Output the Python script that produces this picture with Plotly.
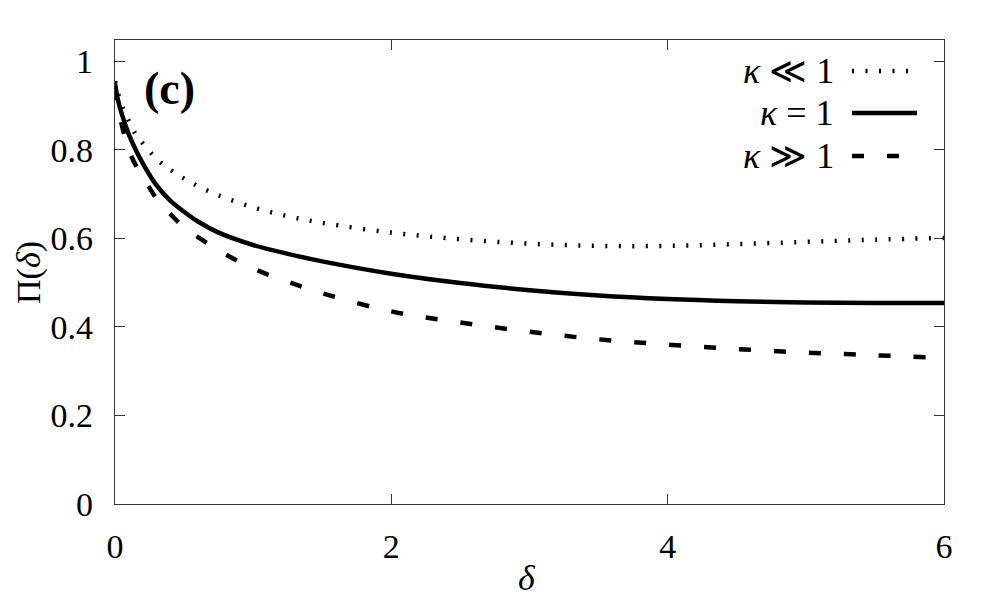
import plotly.graph_objects as go

# ---- data ----
delta = [0, 0.02, 0.05, 0.1, 0.15, 0.2, 0.3, 0.4, 0.5, 0.6, 0.75, 1, 1.25, 1.5, 2, 2.5,
         3, 3.5, 4, 4.5, 5, 5.5, 6]
pi_kappa_small = [0.955, 0.93, 0.90, 0.865, 0.835, 0.815, 0.78, 0.755, 0.735, 0.718, 0.697,
                  0.67, 0.65, 0.635, 0.613, 0.598, 0.588, 0.583, 0.583, 0.587, 0.592, 0.597,
                  0.601]
pi_kappa_one = [0.95, 0.915, 0.88, 0.835, 0.80, 0.77, 0.72, 0.685, 0.66, 0.638, 0.613,
                0.585, 0.565, 0.548, 0.52, 0.499, 0.483, 0.471, 0.463, 0.458, 0.455, 0.454,
                0.454]
pi_kappa_large = [0.94, 0.90, 0.855, 0.80, 0.765, 0.74, 0.69, 0.655, 0.625, 0.603, 0.573,
                  0.532, 0.502, 0.476, 0.435, 0.41, 0.389, 0.372, 0.36, 0.35, 0.342, 0.336,
                  0.330]

series_labels = ["<i>κ</i> ≪ 1", "<i>κ</i> = 1", "<i>κ</i> ≫ 1"]
x_ticks = [0, 2, 4, 6]
y_ticks = [0, 0.2, 0.4, 0.6, 0.8, 1]
y_ticklabels = ["0", "0.2", "0.4", "0.6", "0.8", "1"]

FONT = "Liberation Serif, DejaVu Serif, serif"
OFF = 8                      # default page body margin
W, H = 997 - OFF, 609 - OFF
PL, PR, PT, PB = 115, 944, 40, 504   # plot area in page pixels
L, T = PL - OFF, PT - OFF
R = (W + OFF) - PR
B = (H + OFF) - PB
PW, PH = PR - PL, PB - PT

def px2paper(px, py):
    return (px - PL) / PW, (PB - py) / PH

styles = [
    dict(color="black", width=4.5, dash="2px,11.5px"),
    dict(color="black", width=4.5, dash="solid"),
    dict(color="black", width=4.5, dash="12px,23px"),
]
series = [pi_kappa_small, pi_kappa_one, pi_kappa_large]

fig = go.Figure()
for ys, st, name in zip(series, styles, series_labels):
    fig.add_trace(go.Scatter(x=delta, y=ys, mode="lines", name=name,
                             line=dict(shape="spline", smoothing=1.0, **st),
                             showlegend=False))

axis_common = dict(showline=True, linecolor="#333", linewidth=1.3, mirror="ticks",
                   ticks="inside", ticklen=10, tickcolor="#333", tickwidth=1,
                   showgrid=False, zeroline=False,
                   tickfont=dict(family=FONT, size=34, color="black"))

fig.update_xaxes(range=[0, 6], tickvals=x_ticks, ticktext=[str(v) for v in x_ticks],
                 ticklabelstandoff=12, **axis_common)
fig.update_yaxes(range=[0, 1.048], tickvals=y_ticks, ticktext=y_ticklabels,
                 ticklabelstandoff=14, **axis_common)

annotations = []
ax, ay = px2paper(527, 578)
annotations.append(dict(x=ax, y=ay, xref="paper", yref="paper", text="<i>δ</i>",
                        showarrow=False, font=dict(family=FONT, size=36, color="black"),
                        xanchor="center", yanchor="middle"))
ax, ay = px2paper(29, 273)
annotations.append(dict(x=ax, y=ay, xref="paper", yref="paper", text="Π(<i>δ</i>)",
                        showarrow=False, textangle=-90,
                        font=dict(family=FONT, size=34, color="black"),
                        xanchor="center", yanchor="middle"))
ax, ay = px2paper(169, 88)
annotations.append(dict(x=ax, y=ay, xref="paper", yref="paper", text="<b>(c)</b>",
                        showarrow=False, font=dict(family=FONT, size=46, color="black"),
                        xanchor="center", yanchor="middle"))

legend_rows_y = [71, 113, 156]
legend_line_ends = [908, 917, 900]
shapes = []
for lab, ry, st, xe in zip(series_labels, legend_rows_y, styles, legend_line_ends):
    tx, ty = px2paper(836, ry)
    annotations.append(dict(x=tx, y=ty, xref="paper", yref="paper", text=lab,
                            showarrow=False, font=dict(family=FONT, size=36, color="black"),
                            xanchor="right", yanchor="middle"))
    x0, y0 = px2paper(852, ry)
    x1, _ = px2paper(xe, ry)
    shapes.append(dict(type="line", xref="paper", yref="paper", x0=x0, x1=x1, y0=y0, y1=y0,
                       line=dict(color="black", width=st["width"], dash=st["dash"])))

fig.update_layout(width=W, height=H, margin=dict(l=L, r=R, t=T, b=B),
                  paper_bgcolor="white", plot_bgcolor="white",
                  annotations=annotations, shapes=shapes,
                  font=dict(family=FONT, color="black"))

fig.write_html("out.html")
